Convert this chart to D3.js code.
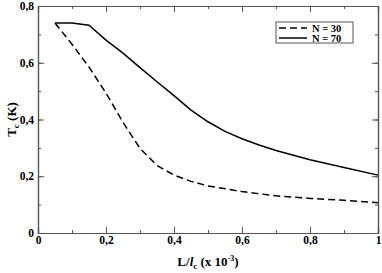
<!DOCTYPE html>
<html>
<head>
<meta charset="utf-8">
<script src="https://cdn.jsdelivr.net/npm/d3@7"></script>
<style>
  body { margin: 0; background: #fff; }
  text { font-family: "Liberation Serif", "DejaVu Serif", serif; font-weight: bold; }
</style>
</head>
<body>
<svg id="chart" width="382" height="273"></svg>
<script>
// N = 30 (dashed)
var xN30 = [0.05, 0.1, 0.15, 0.2, 0.25, 0.3, 0.35, 0.4, 0.45, 0.5, 0.6, 0.7, 0.8, 0.9, 1.0];
var yN30 = [0.74, 0.665, 0.585, 0.493, 0.39, 0.298, 0.238, 0.204, 0.182, 0.166, 0.146, 0.131, 0.122, 0.115, 0.107];
// N = 70 (solid)
var xN70 = [0.05, 0.1, 0.15, 0.2, 0.25, 0.3, 0.35, 0.4, 0.45, 0.5, 0.55, 0.6, 0.65, 0.7, 0.8, 0.9, 1.0];
var yN70 = [0.74, 0.74, 0.732, 0.68, 0.634, 0.583, 0.533, 0.484, 0.433, 0.392, 0.358, 0.332, 0.31, 0.291, 0.258, 0.231, 0.204];
var xTicks = [0, 0.2, 0.4, 0.6, 0.8, 1];
var yTicks = [0, 0.2, 0.4, 0.6, 0.8];
var legendLabels = ["N = 30", "N = 70"];

var margin = {top: 6, right: 4, bottom: 40, left: 38},
    width = 382 - margin.left - margin.right,
    height = 273 - margin.top - margin.bottom;

var svg = d3.select("#chart");
var g = svg.append("g")
    .attr("transform", "translate(" + margin.left + "," + margin.top + ")");

var x = d3.scaleLinear().domain([0, 1]).range([0, width]);
var y = d3.scaleLinear().domain([0, 0.8]).range([height, 0]);

var fmt = function(d) { return d === 0 ? "0" : d === 1 ? "1" : d3.format(".1f")(d).replace(".", ","); };
var axisColor = "#555";
var minorX = d3.range(0, 1.0001, 0.1), minorY = d3.range(0, 0.8001, 0.1);

// ticks point inward on all four sides
function styleAxis(sel) {
  sel.select(".domain").attr("stroke", axisColor);
  sel.selectAll(".tick line").attr("stroke", axisColor);
  sel.selectAll(".tick text").attr("fill", "#000").style("font-size", "11.5px");
}

g.append("g").attr("transform", "translate(0," + height + ")")
  .call(d3.axisBottom(x).tickValues(minorX).tickSize(-3).tickFormat(""))
  .call(styleAxis);
g.append("g").attr("transform", "translate(0," + height + ")")
  .call(d3.axisBottom(x).tickValues(xTicks).tickSize(-6).tickPadding(3).tickFormat(fmt))
  .call(styleAxis);
g.append("g")
  .call(d3.axisLeft(y).tickValues(minorY).tickSize(-3).tickFormat(""))
  .call(styleAxis);
g.append("g")
  .call(d3.axisLeft(y).tickValues(yTicks).tickSize(-6).tickPadding(4).tickFormat(fmt))
  .call(styleAxis);
g.append("g")
  .call(d3.axisTop(x).tickValues(minorX).tickSize(-3).tickFormat(""))
  .call(styleAxis);
g.append("g")
  .call(d3.axisTop(x).tickValues(xTicks).tickSize(-6).tickFormat(""))
  .call(styleAxis);
g.append("g").attr("transform", "translate(" + width + ",0)")
  .call(d3.axisRight(y).tickValues(minorY).tickSize(-3).tickFormat(""))
  .call(styleAxis);
g.append("g").attr("transform", "translate(" + width + ",0)")
  .call(d3.axisRight(y).tickValues(yTicks).tickSize(-6).tickFormat(""))
  .call(styleAxis);
g.selectAll(".domain").attr("stroke-width", 1.2);

var line = d3.line()
  .x(function(d) { return x(d[0]); })
  .y(function(d) { return y(d[1]); });

g.append("path")
  .datum(d3.zip(xN30, yN30))
  .attr("d", line)
  .attr("fill", "none")
  .attr("stroke", "#000")
  .attr("stroke-width", 1.5)
  .attr("stroke-dasharray", "7,4");

g.append("path")
  .datum(d3.zip(xN70, yN70))
  .attr("d", line)
  .attr("fill", "none")
  .attr("stroke", "#000")
  .attr("stroke-width", 1.5);

// legend
var lg = svg.append("g").attr("transform", "translate(276,22)");
lg.append("rect").attr("width", 77).attr("height", 21)
  .attr("fill", "#fff").attr("stroke", "#555").attr("stroke-width", 1);
legendLabels.forEach(function(t, i) {
  var yy = 6 + i * 10;
  lg.append("line").attr("x1", 3).attr("x2", 31).attr("y1", yy).attr("y2", yy)
    .attr("stroke", "#000").attr("stroke-width", 1.5)
    .attr("stroke-dasharray", i === 0 ? "7,4" : null);
  lg.append("text").attr("x", 36).attr("y", yy + 3.5).style("font-size", "10.5px").text(t);
});

// axis titles
var yl = svg.append("text")
  .attr("transform", "translate(16," + (margin.top + height / 2) + ") rotate(-90)")
  .attr("text-anchor", "middle")
  .style("font-size", "13px");
yl.append("tspan").text("T");
yl.append("tspan").attr("dy", 3).style("font-size", "9px").text("c");
yl.append("tspan").attr("dy", -3).text(" (K)");

var xl = svg.append("text")
  .attr("x", margin.left + width / 2)
  .attr("y", 266)
  .attr("text-anchor", "middle")
  .style("font-size", "13px");
xl.append("tspan").text("L/");
xl.append("tspan").style("font-style", "italic").text("l");
xl.append("tspan").attr("dy", 3).style("font-size", "9px").text("c");
xl.append("tspan").attr("dy", -3).text(" (x 10");
xl.append("tspan").attr("dy", -5).style("font-size", "8px").text("-3");
xl.append("tspan").attr("dy", 5).text(")");
</script>
</body>
</html>
